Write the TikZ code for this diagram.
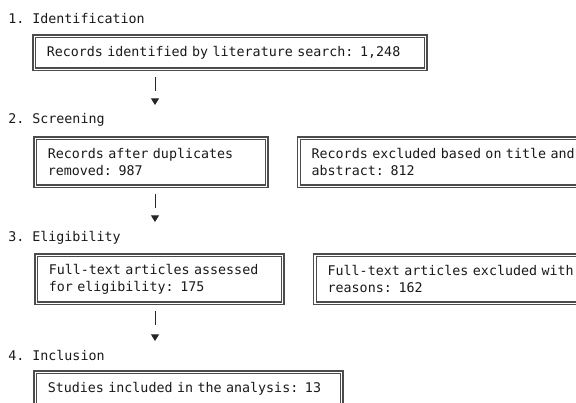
\documentclass[tikz,border=0pt]{standalone}
\usepackage{fontspec}
\setmonofont{DejaVu Sans Mono}
\usetikzlibrary{positioning,arrows.meta}
\begin{document}
\begin{tikzpicture}[x=0.75pt, y=-0.75pt,
    stage/.style = {anchor=base west, inner sep=0pt, text=black!90, font=\ttfamily\fontsize{10}{12.75}\selectfont},
    main/.style = {draw=black!70, double=white, double distance=0.8pt, line width=0.9pt, anchor=north west, align=left, inner xsep=9.5pt, inner ysep=0pt, text=black!90, font=\ttfamily\fontsize{10}{12.75}\selectfont},
    flow/.style = {draw=black!85, line width=0.75pt, shorten <=5.25pt, dash pattern=on 11pt off 20pt, -{Triangle[length=5pt,width=6pt]}}]
    \useasboundingbox (0,0) rectangle (576,403);
    \clip (0,0) rectangle (576,403);

    \node[stage] (s1) at (8,24)  {1. Identification};
    \node[stage] (s2) at (8,124) {2. Screening};
    \node[stage] (s3) at (8,242) {3. Eligibility};
    \node[stage] (s4) at (8,360) {4. Inclusion};

    \node[main, text width=274.75pt, minimum height=24.75pt] (1) at (33.5,35.5) {Records identified by literature search: 1,248};
    \node[main, text width=154.75pt, minimum height=36pt] (2) at (34.5,137.5) {Records after duplicates\\removed: 987};
    \node[main, text width=230pt, minimum height=36pt] (3) [right=23.25pt of 2] {Records excluded based on title and\\abstract: 812};
    \node[main, text width=166pt, minimum height=36pt] (4) at (35.5,254.5) {Full-text articles assessed\\for eligibility: 175};
    \node[main, text width=230pt, minimum height=36pt] (5) [right=23.25pt of 4] {Full-text articles excluded with\\reasons: 162};
    \node[main, text width=211pt, minimum height=24.75pt] (6) at (34.5,371.5) {Studies included in the analysis: 13};

    \coordinate (t1) at (155,105);
    \coordinate (t2) at (155,222);
    \coordinate (t3) at (155,341);
    \draw[flow] (1.south -| t1) to (t1);
    \draw[flow] (2.south -| t2) to (t2);
    \draw[flow] (4.south -| t3) to (t3);
\end{tikzpicture}
\end{document}
